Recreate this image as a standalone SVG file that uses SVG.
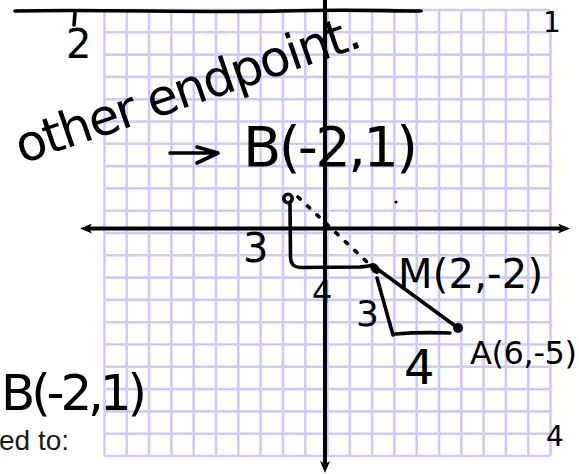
<svg xmlns="http://www.w3.org/2000/svg" width="579" height="474" viewBox="0 0 579 474">
<style>
.grid{fill:none;stroke:#ccccf7;stroke-width:2.6}
.ink{fill:none;stroke:#000;stroke-width:3.6;stroke-linecap:round;stroke-linejoin:round}
.axis{fill:none;stroke:#000;stroke-width:4}
.hw{font-family:"DejaVu Sans","Liberation Sans",sans-serif;fill:#000}
.pr{font-family:"Liberation Sans",Arial,sans-serif;fill:#1a1a1a}
</style>
<defs>
<marker id="ah" viewBox="0 0 12 10" refX="3" refY="5" markerWidth="12" markerHeight="10" markerUnits="userSpaceOnUse" orient="auto-start-reverse">
<path d="M0,0 L12,5 L0,10 L3,5 z" fill="#000"/>
</marker>
</defs>
<rect width="579" height="474" fill="#fff"/>
<g id="grid">
<path class="grid" d="M104.5,10V456 M126.8,10V456 M149.1,10V456 M171.4,10V456 M193.7,10V456 M216,10V456 M238.3,10V456 M260.6,10V456 M282.9,10V456 M305.2,10V456 M327.5,10V456 M349.8,10V456 M372.1,10V456 M394.4,10V456 M416.7,10V456 M439,10V456 M461.3,10V456 M483.6,10V456 M505.9,10V456 M528.2,10V456 M550.5,10V456 M104.5,10H550.5 M104.5,32.3H550.5 M104.5,54.6H550.5 M104.5,76.9H550.5 M104.5,99.2H550.5 M104.5,121.5H550.5 M104.5,143.8H550.5 M104.5,166.1H550.5 M104.5,188.4H550.5 M104.5,210.7H550.5 M104.5,233H550.5 M104.5,255.3H550.5 M104.5,277.6H550.5 M104.5,299.9H550.5 M104.5,322.2H550.5 M104.5,344.5H550.5 M104.5,366.8H550.5 M104.5,389.1H550.5 M104.5,411.4H550.5 M104.5,433.7H550.5 M104.5,456H550.5"/>
</g>
<g id="axes">
<line class="axis" x1="89" y1="228.5" x2="561" y2="228.5" marker-start="url(#ah)" marker-end="url(#ah)"/>
<line class="axis" x1="325" y1="0" x2="325" y2="464" marker-end="url(#ah)"/>
</g>
<g id="title-rule">
<path class="ink" d="M15,11 C100,9 200,13 280,11 S380,11 421,11"/>
<path class="ink" d="M75,13 L74,25"/>
</g>
<g id="labels">
<text class="hw" x="66" y="58" font-size="40">2</text>
<text class="hw" x="543" y="32" font-size="28">1</text>
<text class="hw" transform="translate(22,164) rotate(-19)" x="0" y="0" font-size="50" textLength="362" lengthAdjust="spacing">other endpoint.</text>
<path class="ink" d="M170,153 L218,153 M197,147 L218,153 L197,163"/>
<text class="hw" x="243" y="166" font-size="56" textLength="175" lengthAdjust="spacing">B(-2,1)</text>
<text class="hw" x="1" y="410" font-size="50" textLength="146" lengthAdjust="spacing">B(-2,1)</text>
<text class="pr" x="-1" y="450" font-size="28">ed to:</text>
<circle cx="396" cy="202" r="1.6" fill="#000"/>
</g>
<g id="connectors">
<path class="ink" d="M290,203 L290.5,258 Q291,267 300,267.5 L360,267 Q368,266.5 372,265"/>
<path class="ink" d="M298,197 L367,262" stroke-dasharray="3 10"/>
<path class="ink" d="M376,268 L458,328"/>
<path class="ink" d="M377,278 L393,335"/>
<path class="ink" d="M395,334 Q420,332 450,333"/>
</g>
<g id="point-B">
<circle cx="288" cy="198.5" r="4.2" fill="#fff" stroke="#000" stroke-width="3.6"/>
<text class="hw" x="243" y="262" font-size="40">3</text>
</g>
<g id="point-M">
<ellipse cx="375" cy="268.5" rx="4" ry="6" transform="rotate(-35 375 268.5)" fill="#000"/>
<text class="hw" x="398" y="288" font-size="40" textLength="145" lengthAdjust="spacing">M(2,-2)</text>
<text class="hw" x="312" y="303" font-size="32">4</text>
<text class="hw" x="356" y="326" font-size="36">3</text>
</g>
<g id="point-A">
<circle cx="458" cy="328" r="5" fill="#000"/>
<text class="hw" x="470" y="364" font-size="32" textLength="107" lengthAdjust="spacing">A(6,-5)</text>
<text class="hw" x="404" y="384" font-size="48">4</text>
<text class="hw" x="546" y="446" font-size="28">4</text>
</g>
</svg>
